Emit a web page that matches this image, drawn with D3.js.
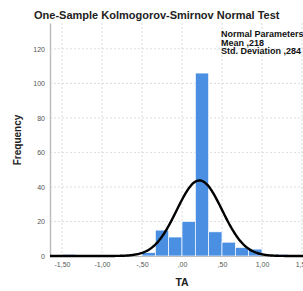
<!DOCTYPE html>
<html>
<head>
<meta charset="utf-8">
<script src="https://cdn.jsdelivr.net/npm/d3@7"></script>
<style>
  body { margin: 0; background: #fff; }
  svg { display: block; font-family: "Liberation Sans", Arial, sans-serif; }
</style>
</head>
<body>
<div id="chart"></div>
<script>
// histogram of TA, lower bin edges and counts
var binWidth = 1 / 6;
var binStarts = [-1.5, -0.5, -1/3, -1/6, 0, 1/6, 1/3, 0.5, 2/3, 5/6, 7/6];
var binCounts = [1, 2, 15, 11, 20, 106, 14, 8, 5, 4, 1];

var xTicks = [-1.5, -1.0, -0.5, 0, 0.5, 1.0, 1.5];
var xTickLabels = ["-1,50", "-1,00", "-,50", ",00", ",50", "1,00", "1,50"];
var yTicks = [0, 20, 40, 60, 80, 100, 120];

var meanVal = 0.218, sdVal = 0.284;
var legendLines = ["Normal Parameters", "Mean ,218", "Std. Deviation ,284"];

var W = 303, H = 291;
var margin = {top: 23, left: 50, bottom: 35};

var svg = d3.select("#chart").append("svg")
    .attr("width", W)
    .attr("height", H);

var x = d3.scaleLinear().domain([-1.65, 1.65]).range([margin.left, 314]);
var y = d3.scaleLinear().domain([0, 135]).range([H - margin.bottom, margin.top]);

// grid
svg.append("g").selectAll("line").data(yTicks.slice(1)).enter().append("line")
    .attr("x1", margin.left).attr("x2", W)
    .attr("y1", function(d){ return y(d); }).attr("y2", function(d){ return y(d); })
    .attr("stroke", "#d4d4d4").attr("stroke-width", 0.8).attr("stroke-dasharray", "2,2");
svg.append("g").selectAll("line").data(xTicks).enter().append("line")
    .attr("x1", function(d){ return x(d); }).attr("x2", function(d){ return x(d); })
    .attr("y1", margin.top).attr("y2", y(0))
    .attr("stroke", "#d4d4d4").attr("stroke-width", 0.8).attr("stroke-dasharray", "2,2");

// bars
svg.append("g").selectAll("rect").data(binStarts).enter().append("rect")
    .attr("x", function(d){ return x(d); })
    .attr("width", function(d){ return x(d + binWidth) - x(d); })
    .attr("y", function(d, i){ return y(binCounts[i]); })
    .attr("height", function(d, i){ return y(0) - y(binCounts[i]); })
    .attr("fill", "#4a8fe2")
    .attr("stroke", "#fff")
    .attr("stroke-width", 0.7);

// y axis
var yAxis = d3.axisLeft(y).tickValues(yTicks).tickSize(0).tickPadding(5);
var gy = svg.append("g").attr("transform", "translate(" + margin.left + ",0)").call(yAxis);
gy.select(".domain").attr("stroke", "#bdbdbd").attr("stroke-width", 1.5);
gy.selectAll("text").attr("fill", "#555").style("font-size", "7px");

// x axis
var xAxis = d3.axisBottom(x).tickValues(xTicks).tickSize(0).tickPadding(6)
    .tickFormat(function(d, i){ return xTickLabels[i]; });
var gx = svg.append("g").attr("transform", "translate(0," + y(0) + ")").call(xAxis);
gx.select(".domain").attr("stroke", "#bdbdbd");
gx.selectAll("text").attr("fill", "#555").style("font-size", "7px");

// fitted normal curve
var N = d3.sum(binCounts);
var curvePts = d3.range(-1.65, 1.66, 0.01).map(function(v){
    var z = (v - meanVal) / sdVal;
    return [v, N * binWidth * Math.exp(-0.5 * z * z) / (sdVal * Math.sqrt(2 * Math.PI))];
});
svg.append("path")
    .datum(curvePts)
    .attr("fill", "none")
    .attr("stroke", "#000")
    .attr("stroke-width", 2.4)
    .attr("d", d3.line().x(function(d){ return x(d[0]); }).y(function(d){ return y(d[1]); }));

// title & labels
svg.append("text")
    .attr("x", 34).attr("y", 19)
    .style("font-size", "11px").style("font-weight", "bold").attr("fill", "#222")
    .text("One-Sample Kolmogorov-Smirnov Normal Test");

svg.append("text")
    .attr("transform", "translate(21,140) rotate(-90)")
    .attr("text-anchor", "middle")
    .style("font-size", "10px").style("font-weight", "bold").attr("fill", "#222")
    .text("Frequency");

svg.append("text")
    .attr("x", x(0)).attr("y", 286)
    .attr("text-anchor", "middle")
    .style("font-size", "10.5px").style("font-weight", "bold").attr("fill", "#222")
    .text("TA");

svg.append("g").selectAll("text").data(legendLines).enter().append("text")
    .attr("x", 221)
    .attr("y", function(d, i){ return 37 + i * 8.5; })
    .style("font-size", "9px").style("font-weight", "bold").attr("fill", "#111")
    .text(function(d){ return d; });
</script>
</body>
</html>
